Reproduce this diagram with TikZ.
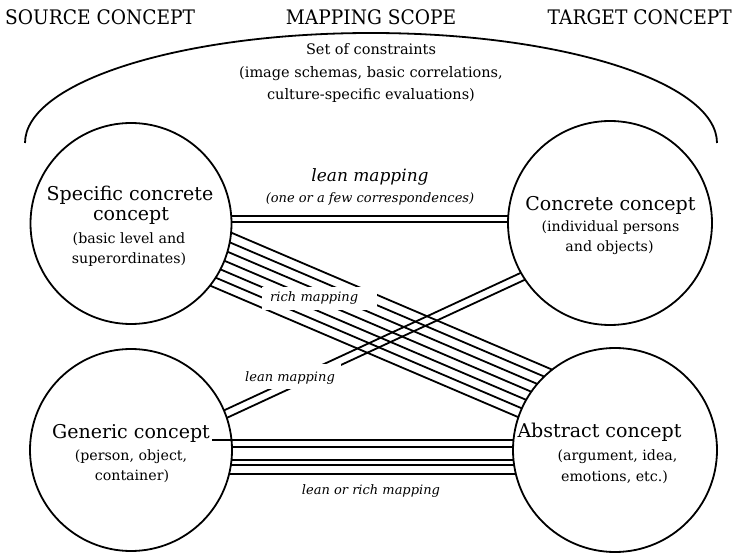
\documentclass[tikz,border=0pt]{standalone}
\usepackage{fontspec}
\setmainfont{DejaVu Serif}
\newfontfamily\hdrfont[FakeStretch=0.93]{DejaVu Serif}
\usetikzlibrary{calc,backgrounds}
\begin{document}
\begin{tikzpicture}[x=1pt,y=-1pt,
  conc/.style={circle,draw,line width=1.8pt,fill=white,inner sep=0pt,outer sep=0pt},
  link/.style={line width=1.8pt},
  thinlink/.style={line width=1.1pt},
  hdr/.style={font=\hdrfont\fontsize{20}{24}\selectfont,inner sep=0pt,anchor=base},
  ttl/.style={font=\fontsize{19}{22}\selectfont,inner sep=0pt,anchor=base},
  sub/.style={font=\fontsize{14.2}{17}\selectfont,inner sep=0pt,anchor=base},
  cons/.style={font=\fontsize{14.5}{17}\selectfont,inner sep=0pt,anchor=base},
  lbl/.style={font=\itshape\fontsize{13}{15}\selectfont,inner sep=0pt,anchor=base},
  biglbl/.style={font=\itshape\fontsize{17}{20}\selectfont,inner sep=0pt,anchor=base}
]
\useasboundingbox (0,0) rectangle (734,553);

% concept circles
\node[conc,minimum size=201pt] (sc) at (131,223.5) {};
\node[conc,minimum size=204pt] (cc) at (610,223) {};
\node[conc,minimum size=202pt] (gc) at (131,450) {};
\node[conc,minimum size=204pt] (ac) at (615,450) {};

% mapping scope arc
\draw[link] (25,143) arc[start angle=180,end angle=360,x radius=346,y radius=110];

% connectors behind the circles
\begin{pgfonlayer}{background}
  \draw[link] ($(sc.center)+(0,-7.5)$) -- ($(cc.center)+(0,-7)$);
  \draw[link] ($(sc.center)+(0,-1.5)$) -- ($(cc.center)+(0,-1)$);
  \foreach \k in {-3,...,3}
    \draw[link] ($(sc.center)+(1,-2.2)+({-3.73*\k},{8.74*\k})$) -- ($(ac.center)+(8.1,-19.1)+({-3.73*\k},{8.74*\k})$);
  \foreach \s in {-1,1}
    \draw[link] ($(gc.center)+(58,-19)+({1.68*\s},{3.63*\s})$) -- ($(cc.center)+(-49,35.6)+({1.68*\s},{3.63*\s})$);
  \draw[link] ($(gc.center)+(0,-3)$) -- ($(ac.center)+(0,-3)$);
  \draw[thinlink] ($(gc.center)+(0,10)$) -- ($(ac.center)+(0,10)$);
  \draw[link] ($(gc.center)+(0,15)$) -- ($(ac.center)+(0,15)$);
  \draw[link] ($(gc.center)+(0,24)$) -- ($(ac.center)+(0,24)$);
\end{pgfonlayer}

% headers
\node[hdr,anchor=base west] (hs) at (5,25) {SOURCE CONCEPT};
\node[hdr] (hm) at (371,25) {MAPPING SCOPE};
\node[hdr,anchor=base east] (ht) at (732,25) {TARGET CONCEPT};
\node[cons] (k1) at (371,55) {Set of constraints};
\node[cons] (k2) at (371,78) {(image schemas, basic correlations,};
\node[cons] (k3) at (371,100) {culture-specific evaluations)};

% circle texts
\node[ttl] (sct1) at (130,201) {Specific concrete};
\node[ttl] (sct2) at (131,221) {concept};
\node[sub] (scs1) at (129,244) {(basic level and};
\node[sub] (scs2) at (129,264) {superordinates)};
\node[ttl] (cct1) at (610.5,211) {Concrete concept};
\node[sub] (ccs1) at (610.5,232) {(individual persons};
\node[sub] (ccs2) at (609.5,252) {and objects)};
\node[ttl] (gct1) at (131,438) {Generic concept};
\node[sub] (gcs1) at (131,460) {(person, object,};
\node[sub] (gcs2) at (132,480) {container)};
\node[ttl] (act1) at (599.5,437) {Abstract concept};
\node[sub] (acs1) at (617.5,460) {(argument, idea,};
\node[sub] (acs2) at (614.5,481) {emotions, etc.)};

% mapping labels
\node[biglbl] (lm1) at (370,182) {lean mapping};
\node[lbl] (lm2) at (370,203) {(one or a few correspondences)};
\node[lbl,fill=white,text width=99pt,align=left,text height=11pt,text depth=4pt,inner ysep=4pt,inner xsep=8pt,anchor=base west] (rm) at (262,302) {rich mapping};
\node[lbl,fill=white,text height=14pt,text depth=3pt,inner ysep=4pt,inner xsep=6pt] (lm3) at (290,382) {lean mapping};
\node[lbl] (lrm) at (371,494) {lean or rich mapping};

% line that runs over the generic-concept circle
\draw[link] ($(gc.center)+(81,-10)$) -- ($(ac.center)+(-101.5,-10)$);
\end{tikzpicture}
\end{document}
